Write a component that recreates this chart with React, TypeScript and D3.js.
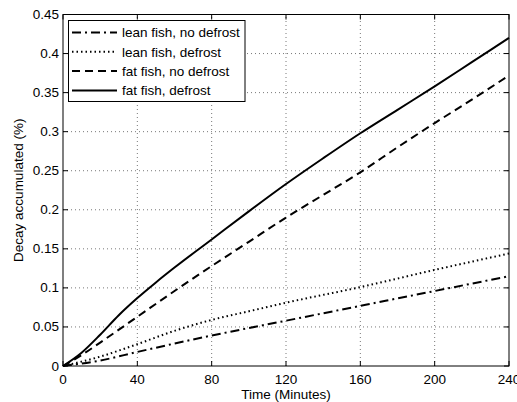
import React from "react";
import * as d3 from "d3";

const timeTicks = [0, 40, 80, 120, 160, 200, 240];
const decayTicks = [0, 0.05, 0.1, 0.15, 0.2, 0.25, 0.3, 0.35, 0.4, 0.45];

const leanNoDefrostT = [0, 20, 40, 80, 120, 160, 200, 240];
const leanNoDefrostV = [0, 0.007, 0.018, 0.039, 0.058, 0.077, 0.096, 0.115];

const leanDefrostT = [0, 20, 40, 60, 80, 100, 120, 160, 200, 240];
const leanDefrostV = [0, 0.012, 0.028, 0.045, 0.059, 0.07, 0.081, 0.101, 0.123, 0.144];

const fatNoDefrostT = [0, 10, 20, 40, 60, 80, 100, 120, 140, 160, 180, 200, 220, 240];
const fatNoDefrostV = [0, 0.014, 0.03, 0.063, 0.096, 0.128, 0.159, 0.19, 0.219, 0.248, 0.28, 0.311, 0.341, 0.372];

const fatDefrostT = [0, 10, 20, 30, 40, 50, 60, 80, 100, 120, 140, 160, 180, 200, 220, 240];
const fatDefrostV = [0, 0.017, 0.04, 0.065, 0.087, 0.107, 0.126, 0.162, 0.198, 0.233, 0.266, 0.298, 0.328, 0.358, 0.389, 0.42];

const seriesNames = ["lean fish, no defrost", "lean fish, defrost", "fat fish, no defrost", "fat fish, defrost"];
const dashes = ["9,4,2,4", "1.5,3", "8,5", "none"];

export default function App() {
  const W = 517, H = 402;
  const L = 63, R = 509, T = 14.5, B = 366;
  const x = d3.scaleLinear().domain([0, 240]).range([L, R]);
  const y = d3.scaleLinear().domain([0, 0.45]).range([B, T]);
  const series = [
    [leanNoDefrostT, leanNoDefrostV],
    [leanDefrostT, leanDefrostV],
    [fatNoDefrostT, fatNoDefrostV],
    [fatDefrostT, fatDefrostV],
  ];
  const line = d3
    .line<[number, number]>()
    .x((d) => x(d[0]))
    .y((d) => y(d[1]))
    .curve(d3.curveMonotoneX);
  const font = "'Liberation Sans', Arial, Helvetica, sans-serif";
  const tk = 5;
  return (
    <svg width={W} height={H} style={{ position: "absolute", left: 0, top: 0, background: "#fff" }} fontFamily={font}>
      <rect x={0} y={0} width={W} height={H} fill="#fff" />
      {timeTicks.slice(1, -1).map((t) => (
        <line key={"gx" + t} x1={x(t)} x2={x(t)} y1={B} y2={T} stroke="#555" strokeWidth={0.8} strokeDasharray="1,3" />
      ))}
      {decayTicks.slice(1, -1).map((t) => (
        <line key={"gy" + t} x1={L} x2={R} y1={y(t)} y2={y(t)} stroke="#555" strokeWidth={0.8} strokeDasharray="1,3" />
      ))}
      {timeTicks.map((t) => (
        <g key={"tx" + t}>
          <line x1={x(t)} x2={x(t)} y1={B} y2={B - tk} stroke="#000" />
          <line x1={x(t)} x2={x(t)} y1={T} y2={T + tk} stroke="#000" />
          <text x={x(t)} y={384} textAnchor="middle" fontSize={13.5}>{t}</text>
        </g>
      ))}
      {decayTicks.map((t) => (
        <g key={"ty" + t}>
          <line x1={L} x2={L + tk} y1={y(t)} y2={y(t)} stroke="#000" />
          <line x1={R} x2={R - tk} y1={y(t)} y2={y(t)} stroke="#000" />
          <text x={59} y={y(t) + 4.5} textAnchor="end" fontSize={13.5}>{t}</text>
        </g>
      ))}
      {series.map(([ts, vs], i) => (
        <path
          key={"s" + i}
          d={line(ts.map((t, j) => [t, vs[j]] as [number, number])) || ""}
          fill="none"
          stroke="#000"
          strokeWidth={2}
          strokeDasharray={dashes[i] === "none" ? undefined : dashes[i]}
        />
      ))}
      <rect x={L} y={T} width={R - L} height={B - T} fill="none" stroke="#000" strokeWidth={1} />
      <rect x={68.5} y={20.5} width={176.5} height={81} fill="#fff" stroke="#000" strokeWidth={1} />
      {seriesNames.map((n, i) => {
        const ly = 32.5 + i * 19.3;
        return (
          <g key={"lg" + i}>
            <line x1={72} x2={117} y1={ly} y2={ly} stroke="#000" strokeWidth={2} strokeDasharray={dashes[i] === "none" ? undefined : dashes[i]} />
            <text x={122} y={ly + 4.8} fontSize={13.5}>{n}</text>
          </g>
        );
      })}
      <text x={286} y={399} textAnchor="middle" fontSize={13.5}>Time (Minutes)</text>
      <text transform={`translate(23,${(T + B) / 2}) rotate(-90)`} textAnchor="middle" fontSize={13.5}>Decay accumulated (%)</text>
    </svg>
  );
}
